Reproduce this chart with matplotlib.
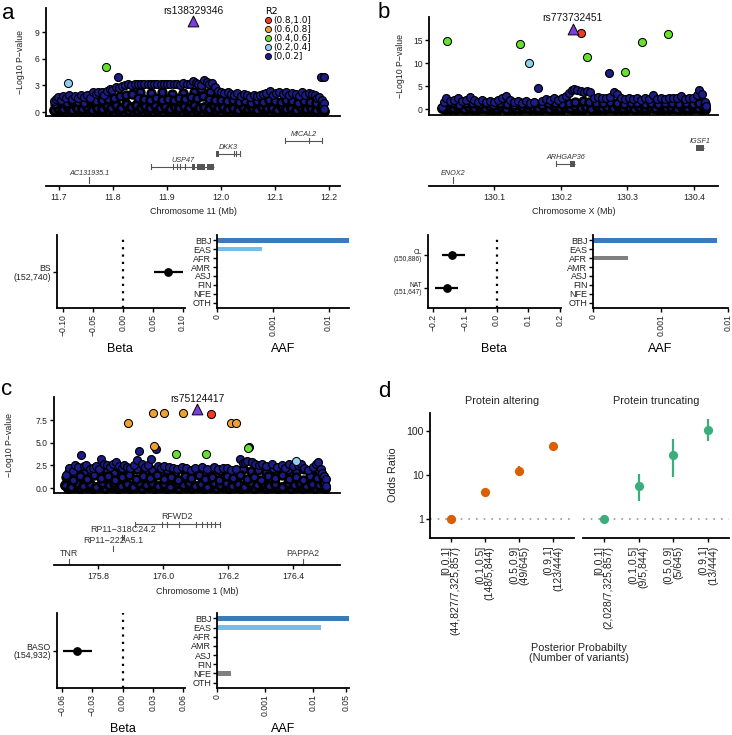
import numpy as np
import matplotlib
matplotlib.use("Agg")
import matplotlib.pyplot as plt
from matplotlib.lines import Line2D
from matplotlib.patches import Rectangle

plt.rcParams['font.family'] = ['Liberation Sans', 'DejaVu Sans']
plt.rcParams['axes.linewidth'] = 1.3

# ---------------- DATA ----------------
R2_LABELS = ["(0.8,1.0]", "(0.6,0.8]", "(0.4,0.6]", "(0.2,0.4]", "[0,0.2]"]
R2_COLORS = ["#EE3B23", "#F0A030", "#66E02E", "#8FD0F0", "#1C1C86"]

# panel a: chr11
a_lead = ("rs138329346", 11.948, 10.2)
a_hi = [(11.717, 3.3, 3), (11.787, 5.1, 2)]
a_navy_top = [(11.690, 1.2), (11.694, 1.5), (11.698, 1.7), (11.703, 1.4), (11.708, 1.8), (11.713, 1.6), (11.719, 1.9),
              (11.724, 1.5), (11.729, 1.8), (11.735, 1.6), (11.741, 1.9), (11.747, 1.7), (11.752, 1.9), (11.758, 1.6),
              (11.763, 2.3), (11.768, 2.0), (11.773, 2.2), (11.779, 2.3), (11.784, 1.9), (11.789, 2.4), (11.794, 2.6),
              (11.799, 2.5), (11.805, 2.8), (11.810, 3.9), (11.811, 2.7), (11.816, 2.9), (11.822, 3.0), (11.828, 3.1),
              (11.834, 3.0), (11.840, 3.1), (11.846, 3.2), (11.852, 3.1), (11.858, 3.2), (11.864, 3.1), (11.870, 3.2),
              (11.876, 3.1), (11.882, 3.1), (11.888, 3.2), (11.894, 3.1), (11.900, 3.2), (11.906, 3.1), (11.912, 3.2),
              (11.918, 3.1), (11.924, 3.0), (11.930, 3.3), (11.936, 3.1), (11.942, 3.2), (11.948, 3.5), (11.953, 3.3),
              (11.958, 3.1), (11.963, 3.0), (11.968, 3.6), (11.973, 3.4), (11.978, 3.1), (11.983, 3.3), (11.988, 2.8),
              (11.994, 2.4), (12.000, 2.3), (12.006, 2.1), (12.012, 2.2), (12.018, 2.0), (12.024, 1.9), (12.030, 2.1),
              (12.036, 1.8), (12.042, 2.0), (12.048, 1.9), (12.054, 1.7), (12.060, 1.9), (12.066, 1.8), (12.072, 1.9),
              (12.078, 2.0), (12.084, 2.1), (12.090, 2.4), (12.096, 1.9), (12.102, 2.1), (12.108, 2.2), (12.114, 2.0),
              (12.120, 2.3), (12.126, 1.9), (12.132, 2.1), (12.138, 2.0), (12.144, 1.8), (12.150, 2.3), (12.156, 1.9),
              (12.162, 2.1), (12.168, 2.0), (12.174, 1.9), (12.178, 1.6), (12.182, 1.7), (12.185, 3.95), (12.190, 3.95),
              (12.186, 1.3), (12.190, 1.0), (12.191, 0.3)]
a_navy_mid = [(11.845, 2.6), (11.850, 2.2), (11.870, 2.1), (11.890, 2.2), (11.910, 2.0), (11.930, 2.1), (11.950, 2.3),
              (11.962, 2.6), (11.980, 2.2), (11.995, 2.0), (11.692, 0.9), (11.703, 1.1), (11.714, 1.0), (11.725, 1.2),
              (11.736, 1.1), (11.747, 1.0), (11.758, 1.3), (11.769, 1.2), (11.780, 1.4), (11.791, 1.5), (11.802, 1.6),
              (11.813, 1.8), (11.824, 1.9), (11.835, 2.0), (11.846, 1.6), (11.857, 1.5), (11.868, 1.4), (11.879, 1.6),
              (11.890, 1.3), (11.901, 1.5), (11.912, 1.4), (11.923, 1.6), (11.934, 1.5), (11.945, 1.7), (11.956, 1.6),
              (11.967, 1.8), (11.978, 1.5), (11.989, 1.4), (12.000, 1.3), (12.011, 1.2), (12.022, 1.3), (12.033, 1.1),
              (12.044, 1.2), (12.055, 1.0), (12.066, 1.2), (12.077, 1.1), (12.088, 1.3), (12.099, 1.2), (12.110, 1.1),
              (12.121, 1.3), (12.132, 1.2), (12.143, 1.0), (12.154, 1.2), (12.165, 1.1), (12.176, 1.0), (12.187, 0.8)]
a_navy_low = [(11.690, 0.2), (11.698, 0.5), (11.707, 0.3), (11.716, 0.6), (11.725, 0.2), (11.734, 0.5), (11.743, 0.3),
              (11.752, 0.6), (11.761, 0.2), (11.770, 0.5), (11.779, 0.3), (11.788, 0.7), (11.797, 0.4), (11.806, 0.8),
              (11.815, 0.5), (11.824, 0.9), (11.833, 0.6), (11.842, 0.8), (11.851, 0.5), (11.860, 0.7), (11.869, 0.4),
              (11.878, 0.8), (11.887, 0.5), (11.896, 0.7), (11.905, 0.3), (11.914, 0.6), (11.923, 0.4), (11.932, 0.7),
              (11.941, 0.5), (11.950, 0.8), (11.959, 0.4), (11.968, 0.6), (11.977, 0.3), (11.986, 0.7), (11.995, 0.5),
              (12.004, 0.6), (12.013, 0.3), (12.022, 0.5), (12.031, 0.2), (12.040, 0.6), (12.049, 0.3), (12.058, 0.5),
              (12.067, 0.2), (12.076, 0.6), (12.085, 0.4), (12.094, 0.5), (12.103, 0.2), (12.112, 0.6), (12.121, 0.3),
              (12.130, 0.5), (12.139, 0.2), (12.148, 0.6), (12.157, 0.3), (12.166, 0.5), (12.175, 0.2), (12.184, 0.5),
              (12.190, 0.1)]
a_navy_base = [(11.694, 0.05), (11.703, 0.1), (11.712, 0.0), (11.721, 0.15), (11.730, 0.05), (11.739, 0.1),
               (11.748, 0.0), (11.757, 0.12), (11.766, 0.05), (11.775, 0.1), (11.784, 0.0), (11.793, 0.15),
               (11.802, 0.05), (11.811, 0.1), (11.820, 0.0), (11.829, 0.12), (11.838, 0.05), (11.847, 0.1),
               (11.856, 0.0), (11.865, 0.15), (11.874, 0.05), (11.883, 0.1), (11.892, 0.0), (11.901, 0.12),
               (11.910, 0.05), (11.919, 0.1), (11.928, 0.0), (11.937, 0.15), (11.946, 0.05), (11.955, 0.1),
               (11.964, 0.0), (11.973, 0.12), (11.982, 0.05), (11.991, 0.1), (12.000, 0.0), (12.009, 0.15),
               (12.018, 0.05), (12.027, 0.1), (12.036, 0.0), (12.045, 0.12), (12.054, 0.05), (12.063, 0.1),
               (12.072, 0.0), (12.081, 0.15), (12.090, 0.05), (12.099, 0.1), (12.108, 0.0), (12.117, 0.12),
               (12.126, 0.05), (12.135, 0.1), (12.144, 0.0), (12.153, 0.15), (12.162, 0.05), (12.171, 0.1),
               (12.180, 0.0), (12.188, 0.1)]

# panel b: chrX
b_lead = ("rs773732451", 130.218, 17.4)
b_hi = [(130.029, 14.8, 2), (130.138, 14.1, 2), (130.152, 10.0, 3), (130.231, 16.5, 0), (130.239, 11.3, 2),
        (130.296, 8.0, 2), (130.322, 14.5, 2), (130.361, 16.3, 2)]
b_navy_top = [(130.022, 0.5), (130.025, 1.5), (130.028, 2.5), (130.034, 1.8), (130.040, 2.0), (130.046, 2.3),
              (130.052, 1.7), (130.058, 2.0), (130.064, 2.7), (130.070, 1.9), (130.076, 1.6), (130.082, 1.9),
              (130.088, 1.5), (130.094, 1.8), (130.100, 1.6), (130.106, 1.9), (130.112, 2.4), (130.118, 2.9),
              (130.124, 1.9), (130.130, 1.5), (130.136, 1.8), (130.142, 1.4), (130.148, 1.7), (130.154, 1.3),
              (130.160, 1.6), (130.166, 4.6), (130.172, 1.8), (130.178, 2.2), (130.184, 1.9), (130.190, 2.4),
              (130.196, 2.0), (130.202, 2.3), (130.208, 2.8), (130.212, 3.4), (130.216, 4.1), (130.220, 4.4),
              (130.225, 4.2), (130.230, 4.0), (130.235, 3.8), (130.240, 3.9), (130.244, 3.8), (130.250, 2.4),
              (130.256, 2.6), (130.262, 2.5), (130.268, 2.3), (130.272, 7.8), (130.274, 2.6), (130.280, 3.6),
              (130.284, 3.2), (130.290, 2.4), (130.296, 2.2), (130.302, 2.5), (130.308, 2.1), (130.314, 2.3),
              (130.320, 2.0), (130.326, 2.4), (130.332, 2.2), (130.338, 3.0), (130.344, 2.1), (130.350, 2.4),
              (130.356, 2.2), (130.362, 2.5), (130.368, 2.3), (130.374, 2.4), (130.380, 2.8), (130.386, 2.2),
              (130.392, 2.5), (130.398, 2.3), (130.404, 3.0), (130.408, 4.1), (130.412, 3.3), (130.416, 1.6),
              (130.418, 0.6)]
b_navy_mid = [(130.026, 1.1), (130.036, 1.3), (130.047, 0.9), (130.057, 1.2), (130.067, 1.4), (130.078, 1.0),
              (130.088, 1.2), (130.098, 0.9), (130.109, 1.3), (130.119, 1.1), (130.129, 0.9), (130.140, 1.2),
              (130.150, 1.0), (130.160, 1.3), (130.171, 0.9), (130.181, 1.2), (130.191, 1.4), (130.202, 1.1),
              (130.212, 1.3), (130.222, 1.6), (130.233, 1.8), (130.243, 1.5), (130.253, 1.4), (130.264, 1.2),
              (130.274, 1.5), (130.284, 1.3), (130.295, 1.1), (130.305, 1.4), (130.315, 1.2), (130.326, 1.0),
              (130.336, 1.3), (130.346, 1.1), (130.357, 1.4), (130.367, 1.2), (130.377, 1.0), (130.388, 1.3),
              (130.398, 1.1), (130.408, 1.4), (130.416, 1.0)]
b_navy_low = [(130.022, 0.3), (130.030, 0.6), (130.038, 0.2), (130.046, 0.5), (130.054, 0.1), (130.062, 0.4),
              (130.070, 0.3), (130.078, 0.5), (130.086, 0.2), (130.094, 0.6), (130.102, 0.3), (130.110, 0.4),
              (130.118, 0.1), (130.126, 0.6), (130.134, 0.3), (130.142, 0.5), (130.150, 0.2), (130.158, 0.4),
              (130.166, 0.3), (130.174, 0.5), (130.182, 0.1), (130.190, 0.6), (130.198, 0.3), (130.206, 0.5),
              (130.214, 0.2), (130.222, 0.7), (130.230, 0.3), (130.238, 0.5), (130.246, 0.1), (130.254, 0.6),
              (130.262, 0.3), (130.270, 0.4), (130.278, 0.2), (130.286, 0.6), (130.294, 0.3), (130.302, 0.5),
              (130.310, 0.1), (130.318, 0.4), (130.326, 0.3), (130.334, 0.5), (130.342, 0.2), (130.350, 0.6),
              (130.358, 0.3), (130.366, 0.5), (130.374, 0.1), (130.382, 0.4), (130.390, 0.3), (130.398, 0.5),
              (130.406, 0.2), (130.414, 0.6)]
b_navy_base = [(130.026, 0.05), (130.034, 0.1), (130.042, 0.0), (130.050, 0.12), (130.058, 0.05), (130.066, 0.1),
               (130.074, 0.0), (130.082, 0.15), (130.090, 0.05), (130.098, 0.1), (130.106, 0.0), (130.114, 0.12),
               (130.122, 0.05), (130.130, 0.1), (130.138, 0.0), (130.146, 0.15), (130.154, 0.05), (130.162, 0.1),
               (130.170, 0.0), (130.178, 0.12), (130.186, 0.05), (130.194, 0.1), (130.202, 0.0), (130.210, 0.15),
               (130.218, 0.05), (130.226, 0.1), (130.234, 0.0), (130.242, 0.12), (130.250, 0.05), (130.258, 0.1),
               (130.266, 0.0), (130.274, 0.15), (130.282, 0.05), (130.290, 0.1), (130.298, 0.0), (130.306, 0.12),
               (130.314, 0.05), (130.322, 0.1), (130.330, 0.0), (130.338, 0.15), (130.346, 0.05), (130.354, 0.1),
               (130.362, 0.0), (130.370, 0.12), (130.378, 0.05), (130.386, 0.1), (130.394, 0.0), (130.402, 0.15),
               (130.410, 0.05), (130.417, 0.1)]

# panel c: chr1
c_lead = ("rs75124417", 176.105, 8.7)
c_hi = [(175.893, 7.2, 1), (175.970, 8.3, 1), (176.003, 8.3, 1), (176.062, 8.3, 1), (176.210, 7.2, 1),
        (176.225, 7.2, 1), (175.973, 4.6, 1), (176.148, 8.2, 0), (176.040, 3.75, 2), (176.133, 3.75, 2),
        (176.262, 4.4, 2), (176.410, 3.0, 3)]
c_navy_top = [(175.702, 1.4), (175.712, 2.2), (175.722, 1.9), (175.730, 2.5), (175.740, 2.3), (175.748, 3.6),
              (175.756, 2.4), (175.764, 2.5), (175.775, 2.1), (175.785, 2.2), (175.795, 2.4), (175.803, 2.1),
              (175.810, 3.2), (175.818, 2.7), (175.828, 2.5), (175.838, 2.3), (175.846, 2.6), (175.855, 2.9),
              (175.865, 2.4), (175.873, 2.2), (175.881, 2.5), (175.890, 2.3), (175.900, 2.2), (175.911, 2.5),
              (175.920, 3.1), (175.927, 4.05), (175.936, 2.6), (175.945, 2.3), (175.955, 2.5), (175.963, 3.2),
              (175.978, 4.35), (175.985, 2.4), (175.995, 2.2), (176.005, 2.4), (176.019, 2.3), (176.030, 2.2),
              (176.045, 2.1), (176.059, 2.3), (176.072, 2.2), (176.085, 2.0), (176.100, 2.2), (176.120, 2.3),
              (176.135, 2.1), (176.157, 2.3), (176.170, 2.1), (176.185, 2.2), (176.197, 2.2), (176.210, 2.0),
              (176.225, 2.1), (176.237, 3.2), (176.245, 2.8), (176.252, 2.9), (176.258, 3.0), (176.265, 4.5),
              (176.274, 2.9), (176.285, 2.6), (176.295, 2.5), (176.305, 2.7), (176.318, 2.4), (176.336, 2.7),
              (176.350, 2.3), (176.365, 2.5), (176.375, 2.2), (176.388, 2.7), (176.400, 2.4), (176.415, 2.5),
              (176.425, 2.7), (176.435, 2.2), (176.448, 2.0), (176.462, 2.3), (176.470, 2.6), (176.477, 2.9),
              (176.485, 2.1), (176.490, 1.7), (176.497, 1.3), (176.502, 1.0), (176.503, 0.2)]
c_navy_mid = [(175.712, 1.8), (175.735, 2.0), (175.758, 1.7), (175.782, 2.1), (175.805, 1.8), (175.828, 2.0),
              (175.851, 1.7), (175.875, 2.1), (175.898, 1.9), (175.921, 2.1), (175.944, 1.8), (175.968, 2.0),
              (175.991, 1.7), (176.014, 2.0), (176.037, 1.8), (176.061, 2.1), (176.084, 1.9), (176.107, 2.0),
              (176.130, 1.8), (176.154, 2.1), (176.177, 1.9), (176.200, 2.0), (176.223, 1.7), (176.247, 2.1),
              (176.270, 1.9), (176.293, 2.0), (176.316, 1.8), (176.340, 2.1), (176.363, 1.9), (176.386, 2.0),
              (176.409, 1.8), (176.433, 2.1), (176.456, 1.7), (176.479, 1.9),
              (175.702, 1.2), (175.722, 0.9), (175.744, 1.3), (175.766, 1.0), (175.788, 1.4), (175.809, 1.1),
              (175.830, 1.3), (175.852, 0.9), (175.873, 1.2), (175.895, 1.4), (175.916, 1.0), (175.938, 1.3),
              (175.960, 1.1), (175.981, 1.4), (176.002, 1.0), (176.024, 1.2), (176.046, 0.9), (176.067, 1.3),
              (176.088, 1.1), (176.110, 1.4), (176.131, 1.0), (176.152, 1.2), (176.174, 0.9), (176.196, 1.3),
              (176.217, 1.1), (176.238, 1.4), (176.260, 1.0), (176.281, 1.2), (176.302, 0.9), (176.324, 1.3),
              (176.345, 1.1), (176.366, 1.4), (176.388, 1.0), (176.409, 1.2), (176.430, 0.9), (176.452, 1.3),
              (176.473, 1.1), (176.492, 1.3)]
c_navy_low = [(175.700, 0.3), (175.718, 0.1), (175.737, 0.5), (175.755, 0.2), (175.776, 0.4), (175.795, 0.1),
              (175.814, 0.5), (175.833, 0.3), (175.851, 0.6), (175.872, 0.2), (175.890, 0.4), (175.909, 0.1),
              (175.928, 0.5), (175.947, 0.3), (175.966, 0.6), (175.985, 0.2), (176.004, 0.4), (176.023, 0.1),
              (176.042, 0.5), (176.061, 0.3), (176.080, 0.6), (176.099, 0.2), (176.118, 0.4), (176.137, 0.1),
              (176.156, 0.5), (176.175, 0.3), (176.194, 0.6), (176.213, 0.2), (176.232, 0.4), (176.251, 0.1),
              (176.270, 0.5), (176.289, 0.3), (176.308, 0.6), (176.327, 0.2), (176.346, 0.4), (176.365, 0.1),
              (176.384, 0.5), (176.403, 0.3), (176.422, 0.6), (176.441, 0.2), (176.460, 0.4), (176.479, 0.3),
              (176.495, 0.5)]
c_navy_base = [(175.708, 0.05), (175.727, 0.15), (175.746, 0.0), (175.766, 0.1), (175.785, 0.05), (175.804, 0.15),
               (175.823, 0.0), (175.842, 0.1), (175.861, 0.05), (175.880, 0.15), (175.899, 0.0), (175.918, 0.1),
               (175.937, 0.05), (175.956, 0.15), (175.975, 0.0), (175.994, 0.1), (176.013, 0.05), (176.032, 0.15),
               (176.051, 0.0), (176.070, 0.1), (176.089, 0.05), (176.108, 0.15), (176.127, 0.0), (176.146, 0.1),
               (176.165, 0.05), (176.184, 0.15), (176.203, 0.0), (176.222, 0.1), (176.241, 0.05), (176.260, 0.15),
               (176.279, 0.0), (176.298, 0.1), (176.317, 0.05), (176.336, 0.15), (176.355, 0.0), (176.374, 0.1),
               (176.393, 0.05), (176.412, 0.15), (176.431, 0.0), (176.450, 0.1), (176.469, 0.05), (176.488, 0.15),
               (176.500, 0.0)]

# genes: name, start, end, exons
a_genes = ["MICAL2", "DKK3", "USP47", "AC131935.1"]
a_gene_start = [12.119, 11.991, 11.870, 11.756]
a_gene_end = [12.187, 12.035, 11.987, 11.756]
a_gene_exons = [[(12.119, 12.119), (12.163, 12.163), (12.187, 12.187)],
                [(11.991, 11.996), (12.024, 12.024), (12.028, 12.028), (12.035, 12.035)],
                [(11.870, 11.870), (11.911, 11.911), (11.918, 11.918), (11.924, 11.924), (11.933, 11.933),
                 (11.946, 11.951), (11.955, 11.970), (11.974, 11.987)],
                [(11.756, 11.756)]]
b_genes = ["IGSF1", "ARHGAP36", "ENOX2"]
b_gene_start = [130.403, 130.192, 130.038]
b_gene_end = [130.415, 130.222, 130.038]
b_gene_exons = [[(130.403, 130.415)], [(130.192, 130.192), (130.214, 130.222)], [(130.038, 130.038)]]
c_genes = ["RFWD2", "RP11\u2212318C24.2", "RP11\u2212222A5.1", "TNR", "PAPPA2"]
c_gene_start = [175.914, 175.873, 175.847, 175.711, 176.431]
c_gene_end = [176.176, 175.880, 175.847, 175.711, 176.431]
c_gene_exons = [[(175.914, 175.914), (175.997, 175.997), (176.012, 176.012), (176.050, 176.050),
                 (176.102, 176.102), (176.120, 176.120), (176.136, 176.136), (176.148, 176.148),
                 (176.160, 176.160), (176.176, 176.176)],
                [(175.873, 175.873), (175.880, 175.880)], [(175.847, 175.847)], [(175.711, 175.711)],
                [(176.431, 176.431)]]

# forest (beta) data
a_traits = ["BS\n(152,740)"]
a_beta = [0.076]; a_beta_lo = [0.053]; a_beta_hi = [0.100]
b_traits = ["CL\n(150,886)", "NAT\n(151,647)"]
b_beta = [-0.139, -0.157]; b_beta_lo = [-0.173, -0.195]; b_beta_hi = [-0.100, -0.123]
c_traits = ["BASO\n(154,932)"]
c_beta = [-0.045]; c_beta_lo = [-0.059]; c_beta_hi = [-0.030]

# allele frequencies
pops = ["BBJ", "EAS", "AFR", "AMR", "ASJ", "FIN", "NFE", "OTH"]
a_aaf = [0.0233, 0.00063, 0, 0, 0, 0, 0, 0]
b_aaf = [0.0068, 0, 0.0003, 0, 0, 0, 0, 0]
c_aaf = [0.057, 0.0148, 0, 0, 0, 0, 0.000145, 0]

# panel d
pp_bins = ["[0,0.1]", "(0.1,0.5]", "(0.5,0.9]", "(0.9,1]"]
alt_counts = ["(44,827/7,325,857)", "(148/5,844)", "(49/645)", "(123/444)"]
alt_or = [1.0, 4.2, 12.5, 45.5]
alt_lo = [1.0, 3.8, 9.3, 40.0]
alt_hi = [1.0, 4.6, 16.3, 51.0]
trunc_counts = ["(2,028/7,325,857)", "(9/5,844)", "(5/645)", "(13/444)"]
trunc_or = [1.0, 5.6, 28.0, 106.0]
trunc_lo = [1.0, 2.6, 9.2, 58.0]
trunc_hi = [1.0, 10.5, 65.0, 183.0]

# ---------------- STYLE ----------------
NAVY = R2_COLORS[4]
PURPLE = "#7B3FE0"
POP_COLORS = {"BBJ": "#3B7BB8", "EAS": "#74BEE8"}
ORANGE = "#D95F02"
GREEN = "#3BAE7C"

W, H = 732, 735
fig = plt.figure(figsize=(W / 100, H / 100), dpi=100)


def add_ax(x0, y0, x1, y1):
    return fig.add_axes([x0 / W, 1 - y1 / H, (x1 - x0) / W, (y1 - y0) / H])


def ftext(x, y, s, **kw):
    fig.text(x / W, 1 - y / H, s, **kw)


def clean(ax, left=True, bottom=True):
    for sp in ["top", "right"]:
        ax.spines[sp].set_visible(False)
    ax.spines["left"].set_visible(left)
    ax.spines["bottom"].set_visible(bottom)
    ax.tick_params(length=3, width=1.0, color="black", labelsize=6.2, pad=1.5, labelcolor="#222222")


def manhattan(box, xlim, ylim, yticks, ytl, ylab_x, navy_rows, hi, lead):
    ax = add_ax(*box)
    clean(ax)
    for rows, lw in navy_rows:
        xs = [p[0] for p in rows]
        ys = [p[1] for p in rows]
        ax.scatter(xs, ys, s=32, c=NAVY, edgecolors="black", linewidths=lw, zorder=2)
    for x, y, k in hi:
        ax.scatter([x], [y], s=34, c=R2_COLORS[k], edgecolors="black", linewidths=0.75, zorder=3)
    name, lx, ly = lead
    ax.scatter([lx], [ly], marker="^", s=60, c=PURPLE, edgecolors="black", linewidths=0.7, zorder=4)
    ax.annotate(name, (lx, ly), xytext=(0, 4), textcoords="offset points", ha="center", va="bottom",
                fontsize=7.4, color="#111111")
    ax.set_xlim(*xlim)
    ax.set_ylim(*ylim)
    ax.set_xticks([])
    ax.set_yticks(yticks)
    ax.set_yticklabels(ytl)
    ax.set_ylabel("\u2212Log10 P\u2212value", fontsize=6.3, color="#222222")
    ax.yaxis.set_label_coords(ylab_x, 0.5)
    return ax


def genetrack(box, xlim, ticks, tls, names, starts, ends, exons, rows, italic, fs, lab_off):
    ax = add_ax(*box)
    clean(ax, left=False)
    h = box[3] - box[1]
    ax.set_ylim(0, h)
    ax.set_xlim(*xlim)
    ax.set_yticks([])
    ax.set_xticks(ticks)
    ax.set_xticklabels(tls)
    ax.tick_params(axis="x", labelsize=6.3, pad=2)
    span = xlim[1] - xlim[0]
    minw = span / 600
    for n, s, e, ex, r in zip(names, starts, ends, exons, rows):
        ax.plot([s, e], [r, r], color="#555555", lw=0.8, solid_capstyle="butt")
        for (es, ee) in ex:
            if ee - es < minw * 2:
                ax.plot([es, es], [r - 2.5, r + 2.5], color="#555555", lw=0.8)
            else:
                ax.add_patch(Rectangle((es, r - 3), ee - es, 6, color="#555555", lw=0))
        ax.text((s + e) / 2, r + lab_off, n, ha="center", va="bottom", fontsize=fs,
                style="italic" if italic else "normal", color="#333333")
    return ax


def forest(box, xlim, ticks, tls, traits, beta, lo, hi, fs):
    ax = add_ax(*box)
    clean(ax)
    n = len(traits)
    ys = [n - i for i in range(n)]
    ax.axvline(0, color="black", lw=1.6, ls=(0, (1, 2.3)), zorder=1)
    ax.hlines(ys, lo, hi, color="black", lw=1.6, zorder=2)
    ax.scatter(beta, ys, s=28, c="black", zorder=3)
    ax.set_xlim(*xlim)
    ax.set_ylim(0.4, n + 0.6)
    ax.set_yticks(ys)
    ax.set_yticklabels(traits, fontsize=fs, linespacing=1.0)
    ax.set_xticks(ticks)
    ax.set_xticklabels(tls, rotation=90)
    return ax


def fwd(x):
    return np.arcsinh(np.asarray(x) / 2e-4)


def inv(y):
    return 2e-4 * np.sinh(np.asarray(y))


def aaf(box, xmax, ticks, tls, vals):
    ax = add_ax(*box)
    clean(ax)
    ax.set_xscale("function", functions=(fwd, inv))
    ys = [len(pops) - i for i in range(len(pops))]
    cols = [POP_COLORS.get(p, "#808080") for p in pops]
    ax.barh(ys, vals, height=0.5, color=cols, left=0)
    ax.set_xlim(0, xmax)
    ax.set_ylim(0.4, len(pops) + 0.6)
    ax.set_yticks(ys)
    ax.set_yticklabels(pops, fontsize=6.5, linespacing=1.0)
    ax.tick_params(axis="y", pad=1)
    ax.set_xticks(ticks)
    ax.set_xticklabels(tls, rotation=90)
    return ax


ROW_LW = (2.4, 2.2, 1.8, 0.9)

# ---------------- PANEL a ----------------
axa = manhattan((46, 8, 340, 116), (11.676, 12.22), (-0.45, 11.7), [0, 3, 6, 9], ["0", "3", "6", "9"], -0.071,
                list(zip([a_navy_base, a_navy_low, a_navy_mid, a_navy_top], ROW_LW)), a_hi, a_lead)
handles = [Line2D([], [], marker="o", ls="", markersize=4.4, markerfacecolor=c, markeredgecolor="black",
                  markeredgewidth=0.6) for c in R2_COLORS]
leg = axa.legend(handles, R2_LABELS, title="R2", loc="upper left", bbox_to_anchor=(0.745, 1.01), frameon=False,
                 prop={"family": "DejaVu Sans", "size": 6.4}, title_fontproperties={"family": "DejaVu Sans",
                                                                                     "size": 6.8},
                 labelspacing=0.0, handlelength=0.6, handletextpad=0.3, borderpad=0, borderaxespad=0)
leg._legend_box.align = "left"

genetrack((46, 128, 340, 186), (11.676, 12.22), [11.7, 11.8, 11.9, 12.0, 12.1, 12.2],
          ["11.7", "11.8", "11.9", "12.0", "12.1", "12.2"], a_genes, a_gene_start, a_gene_end, a_gene_exons,
          [45, 32, 19, 6], True, 5.2, 3)
ftext(193, 212, "Chromosome 11 (Mb)", ha="center", va="center", fontsize=6.5, color="#222222")
forest((57, 235, 185, 308), (-0.110, 0.104), [-0.10, -0.05, 0.0, 0.05, 0.10],
       ["\u22120.10", "\u22120.05", "0.00", "0.05", "0.10"], a_traits, a_beta, a_beta_lo, a_beta_hi, 6.3)
aaf((217, 235, 349, 308), 0.0233, [0, 0.001, 0.01], ["0", "0.001", "0.01"], a_aaf)
ftext(120, 349, "Beta", ha="center", va="center", fontsize=9)
ftext(283, 349, "AAF", ha="center", va="center", fontsize=9)

# ---------------- PANEL b ----------------
manhattan((429, 17, 718, 115), (130.002, 130.436), (-1.3, 20.0), [0, 5, 10, 15], ["0", "5", "10", "15"], -0.083,
          list(zip([b_navy_base, b_navy_low, b_navy_mid, b_navy_top], ROW_LW)), b_hi, b_lead)
genetrack((429, 128, 718, 186), (130.002, 130.436), [130.1, 130.2, 130.3, 130.4],
          ["130.1", "130.2", "130.3", "130.4"], b_genes, b_gene_start, b_gene_end, b_gene_exons,
          [38, 22, 6], True, 5.2, 3)
ftext(574, 212, "Chromosome X (Mb)", ha="center", va="center", fontsize=6.5, color="#222222")
forest((428, 235, 561, 308), (-0.216, 0.203), [-0.2, -0.1, 0.0, 0.1, 0.2],
       ["\u22120.2", "\u22120.1", "0.0", "0.1", "0.2"], b_traits, b_beta, b_beta_lo, b_beta_hi, 4.8)
aaf((593, 235, 728, 308), 0.01, [0, 0.001, 0.01], ["0", "0.001", "0.01"], b_aaf)
ftext(494, 349, "Beta", ha="center", va="center", fontsize=9)
ftext(660, 349, "AAF", ha="center", va="center", fontsize=9)

# ---------------- PANEL c ----------------
manhattan((54, 397, 340, 493), (175.665, 176.545), (-0.55, 10.05), [0, 2.5, 5.0, 7.5],
          ["0.0", "2.5", "5.0", "7.5"], -0.14,
          list(zip([c_navy_base, c_navy_low, c_navy_mid, c_navy_top], ROW_LW)), c_hi, c_lead)
genetrack((54, 508, 340, 565), (175.665, 176.545), [175.8, 176.0, 176.2, 176.4],
          ["175.8", "176.0", "176.2", "176.4"], c_genes, c_gene_start, c_gene_end, c_gene_exons,
          [41, 28, 17, 4, 4], False, 6.4, 3)
ftext(197, 591, "Chromosome 1 (Mb)", ha="center", va="center", fontsize=6.5, color="#222222")
forest((57, 613, 185, 688), (-0.065, 0.062), [-0.06, -0.03, 0.0, 0.03, 0.06],
       ["\u22120.06", "\u22120.03", "0.00", "0.03", "0.06"], c_traits, c_beta, c_beta_lo, c_beta_hi, 6.3)
aaf((217, 613, 349, 688), 0.057, [0, 0.001, 0.01, 0.05], ["0", "0.001", "0.01", "0.05"], c_aaf)
ftext(123, 729, "Beta", ha="center", va="center", fontsize=9)
ftext(283, 729, "AAF", ha="center", va="center", fontsize=9)


# ---------------- PANEL d ----------------
def facet(box, orv, lo, hi, counts, color, left):
    ax = add_ax(*box)
    clean(ax, left=left)
    xs = list(range(1, len(pp_bins) + 1))
    ax.axhline(1, color="#999999", lw=1.2, ls=(0, (1, 3.6)), zorder=1)
    ax.vlines(xs, lo, hi, color=color, lw=1.6, zorder=2)
    ax.scatter(xs, orv, s=44, c=color, zorder=3, linewidths=0)
    ax.set_yscale("log")
    ax.set_ylim(0.37, 256)
    ax.set_xlim(0.4, len(pp_bins) + 0.6)
    ax.set_xticks(xs)
    labs = ax.set_xticklabels([b + "\n" + c for b, c in zip(pp_bins, counts)], rotation=90, fontsize=7.6,
                              linespacing=0.95)
    for t in labs:
        t.set_multialignment("right")
    ax.tick_params(axis="x", pad=2.5)
    ax.yaxis.set_minor_locator(matplotlib.ticker.NullLocator())
    if left:
        ax.set_yticks([1, 10, 100])
        ax.set_yticklabels(["1", "10", "100"], fontsize=7.6)
    else:
        ax.set_yticks([])
    return ax


facet((430, 413, 574, 538), alt_or, alt_lo, alt_hi, alt_counts, ORANGE, True)
facet((583, 413, 729, 538), trunc_or, trunc_lo, trunc_hi, trunc_counts, GREEN, False)
ftext(502, 401, "Protein altering", ha="center", va="center", fontsize=7.8, color="#222222")
ftext(656, 401, "Protein truncating", ha="center", va="center", fontsize=7.8, color="#222222")
ftext(393, 475, "Odds Ratio", ha="center", va="center", rotation=90, fontsize=7.8, color="#222222")
ftext(579, 653, "Posterior Probabilty\n(Number of variants)", ha="center", va="center", fontsize=7.8,
      color="#222222", linespacing=1.05)

# panel letters
for lx, ly, s in [(2, 19, "a"), (378, 18, "b"), (1, 395, "c"), (378, 397, "d")]:
    ftext(lx, ly, s, ha="left", va="baseline", fontsize=16)

fig.savefig("out.png", dpi=100)
